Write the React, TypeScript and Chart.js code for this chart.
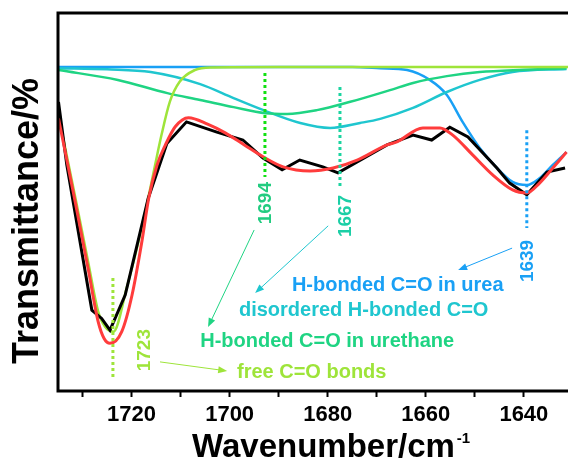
import React, { useEffect, useRef } from "react";
import { Chart, registerables } from "chart.js";

Chart.register(...registerables);

// ---- data (wavenumber in cm-1, transmittance in arbitrary units) ----
const blackWn = [1734.9, 1733.2, 1728.1, 1726.1, 1724.4, 1721.3, 1716.6, 1712.8, 1708.8, 1702.6, 1697.3, 1693.2, 1689.3, 1685.7, 1681.0, 1677.9, 1674.0, 1667.9, 1662.6, 1658.8, 1655.1, 1651.4, 1645.5, 1642.9, 1639.4, 1635.3, 1631.6];
const blackT = [76.5, 59.8, 21.4, 19.2, 16.1, 25.4, 51.0, 65.5, 71.2, 68.5, 66.4, 61.6, 58.5, 61.1, 59.3, 57.7, 60.6, 65.1, 67.7, 66.4, 69.8, 67.2, 59.0, 55.0, 51.9, 57.9, 59.0];

const redWn = [1734.9, 1731.5, 1728.8, 1726.8, 1725.6, 1724.4, 1722.0, 1719.9, 1717.9, 1716.5, 1714.8, 1713.1, 1711.1, 1708.4, 1704.5, 1700.9, 1697.0, 1693.1, 1689.1, 1683.6, 1678.9, 1674.0, 1667.9, 1665.9, 1660.6, 1657.1, 1654.5, 1650.4, 1646.3, 1642.3, 1639.4, 1636.8, 1634.1, 1631.3];
const redT = [72.1, 50.1, 32.0, 18.3, 13.9, 12.6, 15.7, 25.4, 39.5, 51.0, 59.8, 65.1, 69.9, 72.3, 70.6, 68.3, 65.1, 61.9, 59.3, 58.2, 59.0, 61.1, 65.1, 65.9, 69.6, 69.6, 67.7, 62.4, 57.1, 53.2, 52.4, 55.0, 59.0, 63.2];

const freeWn = [1734.9, 1731.5, 1728.8, 1726.8, 1725.4, 1723.7, 1721.0, 1718.6, 1716.9, 1715.2, 1713.9, 1712.2, 1710.2, 1707.1, 1703.7, 1690, 1670, 1650, 1631];
const freeT = [73.0, 51.4, 33.8, 21.0, 17.0, 15.7, 27.2, 39.5, 49.2, 59.8, 67.7, 76.5, 81.8, 84.9, 85.6, 85.7, 85.7, 85.7, 85.7];

const urethaneWn = [1734.9, 1722.8, 1712.7, 1706.0, 1699.2, 1692.7, 1688.3, 1682.2, 1675.4, 1667.3, 1662.6, 1655.7, 1649.0, 1640.0, 1631.3];
const urethaneT = [84.9, 82.3, 78.8, 77.0, 75.1, 73.5, 73.3, 74.3, 76.5, 79.6, 81.5, 83.3, 84.4, 85.0, 85.4];

const disorderedWn = [1734.9, 1725.0, 1716.1, 1706.0, 1699.2, 1693.1, 1685.6, 1679.5, 1673.4, 1669.3, 1662.6, 1655.7, 1649.0, 1642.3, 1631.3];
const disorderedT = [85.4, 85.1, 84.4, 81.2, 77.5, 74.3, 70.9, 69.6, 70.9, 72.0, 74.9, 79.1, 82.3, 84.4, 85.2];

const ureaWn = [1734.9, 1700.0, 1675.0, 1669.3, 1663.8, 1659.2, 1655.7, 1652.5, 1649.0, 1645.5, 1642.3, 1639.4, 1636.8, 1634.1, 1631.3];
const ureaT = [85.7, 85.7, 85.7, 85.4, 84.9, 82.3, 78.3, 71.2, 64.3, 59.0, 55.3, 54.5, 56.3, 59.8, 63.2];

const tickValues = [1730, 1720, 1710, 1700, 1690, 1680, 1670, 1660, 1650, 1640];
const labeledTicks = [1720, 1700, 1680, 1660, 1640];

const peakLabels = ["1723", "1694", "1667", "1639"];
const bandNames = ["free C=O bonds", "H-bonded C=O in urethane", "disordered H-bonded C=O", "H-bonded C=O in urea"];

// ---- styles ----
const LG = "#9ee43a";
const GREEN = "#1fd483";
const CYAN = "#1fc6cf";
const BLUE = "#19a0f5";
const RED = "#ff3c3c";
const FONT = "Arial, 'Liberation Sans', sans-serif";

// annotation layout (in axis units)
const dottedLines = [
  { x: 1723.8, y1: 29.9, y2: 3.7, color: LG },
  { x: 1692.8, y1: 84.1, y2: 56.6, color: "#12e012" },
  { x: 1677.5, y1: 80.4, y2: 54.0, color: "#1bd4a0" },
  { x: 1639.4, y1: 69.0, y2: 43.1, color: BLUE },
];
const peakLabelPos = [
  { x: 1716.2, y: 10.8, color: LG },
  { x: 1691.6, y: 49.7, color: "#22cc80" },
  { x: 1675.3, y: 46.3, color: "#1bcfa6" },
  { x: 1638.1, y: 34.4, color: BLUE },
];
const bandPos = [
  { x: 1698.5, y: 5.0, color: LG },
  { x: 1706.0, y: 13.0, color: GREEN },
  { x: 1698.1, y: 21.2, color: CYAN },
  { x: 1687.3, y: 28.0, color: BLUE },
];
const arrows = [
  { x1: 1714.2, y1: 7.7, x2: 1700.5, y2: 5.3, color: LG },
  { x1: 1695.0, y1: 42.6, x2: 1704.4, y2: 16.9, color: GREEN },
  { x1: 1679.9, y1: 43.7, x2: 1694.8, y2: 25.9, color: CYAN },
  { x1: 1642.4, y1: 37.8, x2: 1653.4, y2: 32.0, color: BLUE },
];

const zip = (xs: number[], ys: number[]) => xs.map((x, i) => ({ x, y: ys[i] }));

const decorPlugin = {
  id: "decor",
  afterDatasetsDraw(chart: any) {
    const ctx = chart.ctx;
    const xs = chart.scales.x;
    const ys = chart.scales.y;
    const { left, right, top, bottom } = chart.chartArea;
    const X = (v: number) => xs.getPixelForValue(v);
    const Y = (v: number) => ys.getPixelForValue(v);
    ctx.save();

    // dotted peak lines
    dottedLines.forEach((d) => {
      ctx.beginPath();
      ctx.setLineDash([3, 3]);
      ctx.lineWidth = 3;
      ctx.strokeStyle = d.color;
      ctx.moveTo(X(d.x), Y(d.y1));
      ctx.lineTo(X(d.x), Y(d.y2));
      ctx.stroke();
    });
    ctx.setLineDash([]);

    // rotated peak labels
    peakLabels.forEach((t, i) => {
      const p = peakLabelPos[i];
      ctx.save();
      ctx.translate(X(p.x), Y(p.y));
      ctx.rotate(-Math.PI / 2);
      ctx.font = `bold 19px ${FONT}`;
      ctx.fillStyle = p.color;
      ctx.textAlign = "center";
      ctx.textBaseline = "alphabetic";
      ctx.fillText(t, 0, 0);
      ctx.restore();
    });

    // band names
    bandNames.forEach((t, i) => {
      const p = bandPos[i];
      ctx.font = `bold 20px ${FONT}`;
      ctx.fillStyle = p.color;
      ctx.textAlign = "left";
      ctx.textBaseline = "middle";
      ctx.fillText(t, X(p.x), Y(p.y));
    });

    // arrows
    arrows.forEach((a) => {
      const x1 = X(a.x1), y1 = Y(a.y1), x2 = X(a.x2), y2 = Y(a.y2);
      const ang = Math.atan2(y2 - y1, x2 - x1);
      ctx.strokeStyle = a.color;
      ctx.fillStyle = a.color;
      ctx.lineWidth = 1;
      ctx.beginPath();
      ctx.moveTo(x1, y1);
      ctx.lineTo(x2 - 6 * Math.cos(ang), y2 - 6 * Math.sin(ang));
      ctx.stroke();
      ctx.beginPath();
      ctx.moveTo(x2, y2);
      ctx.lineTo(x2 - 9 * Math.cos(ang) + 3.5 * Math.sin(ang), y2 - 9 * Math.sin(ang) - 3.5 * Math.cos(ang));
      ctx.lineTo(x2 - 9 * Math.cos(ang) - 3.5 * Math.sin(ang), y2 - 9 * Math.sin(ang) + 3.5 * Math.cos(ang));
      ctx.closePath();
      ctx.fill();
    });

    // frame (left, top, bottom)
    ctx.strokeStyle = "#000";
    ctx.lineWidth = 3;
    ctx.beginPath();
    ctx.moveTo(right + 2, top);
    ctx.lineTo(left, top);
    ctx.lineTo(left, bottom);
    ctx.lineTo(right + 2, bottom);
    ctx.stroke();

    // axis titles
    ctx.fillStyle = "#000";
    ctx.font = `bold 33px ${FONT}`;
    ctx.textAlign = "left";
    ctx.textBaseline = "alphabetic";
    const tx = left + 134;
    const ty = bottom + 66;
    ctx.fillText("Wavenumber/cm", tx, ty);
    const w = ctx.measureText("Wavenumber/cm").width;
    ctx.font = `bold 15px ${FONT}`;
    ctx.fillText("-1", tx + w + 2, ty - 14);

    ctx.save();
    ctx.translate(38, (top + bottom) / 2 + 19);
    ctx.rotate(-Math.PI / 2);
    ctx.font = `bold 36px ${FONT}`;
    ctx.textAlign = "center";
    ctx.fillText("Transmittance/%", 0, 0);
    ctx.restore();

    ctx.restore();
  },
};

export default function App() {
  const ref = useRef<HTMLCanvasElement | null>(null);

  useEffect(() => {
    if (!ref.current) return;
    const common = { pointRadius: 0, fill: false, cubicInterpolationMode: "monotone" as const };
    const chart = new Chart(ref.current, {
      type: "line",
      data: {
        datasets: [
          { label: "fit", data: zip(redWn, redT), borderColor: RED, borderWidth: 3, ...common },
          { label: "measured", data: zip(blackWn, blackT), borderColor: "#000", borderWidth: 3, pointRadius: 0, tension: 0 },
          { label: "free", data: zip(freeWn, freeT), borderColor: LG, borderWidth: 2.5, ...common },
          { label: "urethane", data: zip(urethaneWn, urethaneT), borderColor: GREEN, borderWidth: 2.5, ...common },
          { label: "disordered", data: zip(disorderedWn, disorderedT), borderColor: CYAN, borderWidth: 2.5, ...common },
          { label: "urea", data: zip(ureaWn, ureaT), borderColor: BLUE, borderWidth: 2.5, ...common },
        ],
      },
      options: {
        responsive: false,
        animation: false,
        events: [],
        layout: { padding: { left: 58, top: 13, right: 0, bottom: 0 } },
        plugins: { legend: { display: false }, tooltip: { enabled: false } },
        scales: {
          x: {
            type: "linear",
            min: 1631,
            max: 1735,
            reverse: true,
            afterBuildTicks: (scale: any) => {
              scale.ticks = tickValues.map((v) => ({ value: v }));
            },
            afterFit: (scale: any) => {
              scale.height = 70;
            },
            ticks: {
              autoSkip: false,
              maxRotation: 0,
              padding: 5,
              color: "#000",
              font: { family: FONT, size: 22, weight: "bold" },
              callback: (v: any) => (labeledTicks.includes(Number(v)) ? String(v) : ""),
            },
            grid: {
              display: true,
              drawOnChartArea: false,
              drawTicks: true,
              tickLength: 6,
              tickWidth: 2,
              tickColor: "#000",
            },
            border: { display: false },
          },
          y: { display: false, min: 0, max: 100 },
        },
      },
      plugins: [decorPlugin],
    });
    return () => chart.destroy();
  }, []);

  return (
    <div style={{ position: "fixed", left: 0, top: 0, width: 568, height: 461, background: "#fff" }}>
      <canvas ref={ref} width={568} height={461} style={{ width: 568, height: 461, display: "block" }} />
    </div>
  );
}
